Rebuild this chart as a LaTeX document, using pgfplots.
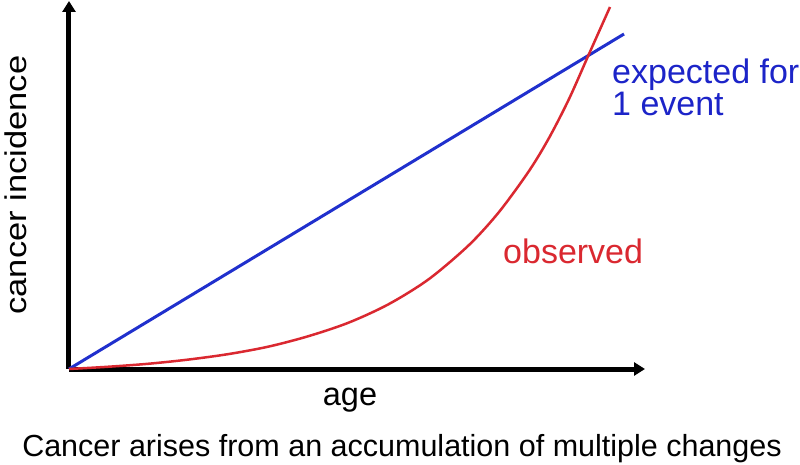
\documentclass[border=0pt]{standalone}
\usepackage{fontspec}
\setmainfont{Liberation Sans}
\usepackage{graphicx}
\usepackage{pgfplots}
\pgfplotsset{compat=1.18}
\usetikzlibrary{arrows.meta}

\definecolor{lineblue}{RGB}{32,48,205}
\definecolor{textblue}{RGB}{28,36,200}
\definecolor{linered}{RGB}{218,40,48}

\begin{document}
\begin{tikzpicture}
\begin{axis}[
    name=ax,
    scale only axis,
    width=576pt, height=368pt,
    xmin=0, xmax=576,
    ymin=0, ymax=368,
    axis lines=left,
    axis line style={line width=5pt, -{Triangle[length=11pt,width=13pt]}},
    xtick=\empty, ytick=\empty,
    clip=false,
]
% expected: linear rise, one event
\addplot[lineblue, line width=3pt] coordinates {(0,0) (555,335)};

% observed incidence
\addplot[linered, line width=2.5pt, smooth] coordinates {
    (0,0) (40,2.3) (80,5.3) (120,9.5) (160,15) (200,22.5) (240,33)
    (280,46.5) (320,65) (360,90) (400,124) (430,157) (460,198)
    (480,231) (500,270) (520,315) (541,362)
};

\node[rotate=90, anchor=base, inner sep=0pt, font=\fontsize{30}{36}\selectfont]
    at (axis cs:-42,184) {\scalebox{1.15}[1]{cancer incidence}};
\node[anchor=base, inner sep=0pt, font=\fontsize{32.5}{38}\selectfont]
    at (axis cs:281,-36) {age};
\node[anchor=base, inner sep=0pt, font=\fontsize{30.5}{36}\selectfont]
    at (axis cs:333,-87.7) {Cancer arises from an accumulation of multiple changes};
\node[anchor=base west, inner sep=0pt, text=textblue, font=\fontsize{34}{40}\selectfont]
    at (axis cs:543,286) {expected for};
\node[anchor=base west, inner sep=0pt, text=textblue, font=\fontsize{34}{40}\selectfont]
    at (axis cs:543,254) {1 event};
\node[anchor=base west, inner sep=0pt, text=linered, font=\fontsize{34}{40}\selectfont]
    at (axis cs:434,106) {observed};

\coordinate (bl) at (axis cs:-69,-95);
\coordinate (tr) at (axis cs:731,369);
\end{axis}
\pgfresetboundingbox
\useasboundingbox (bl) rectangle (tr);
\end{tikzpicture}
\end{document}
